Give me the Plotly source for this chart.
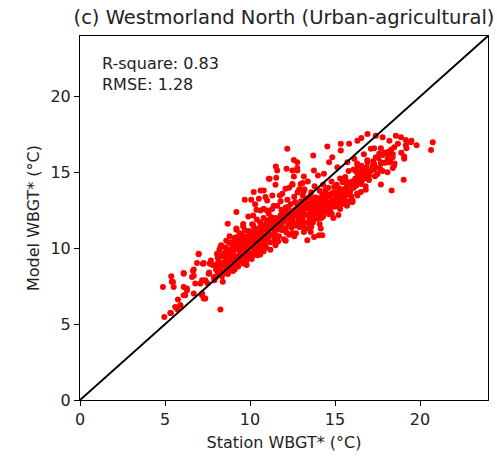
import plotly.graph_objects as go

# Points (station WBGT*, model WBGT*)
points = [
    # low tail
    (4.88, 7.45), (4.96, 5.48), (5.37, 8.16), (5.47, 7.78), (5.51, 7.45), (5.35, 5.74),
    (5.76, 6.62), (5.90, 6.25), (6.10, 8.33), (6.10, 7.45), (6.19, 6.91), (5.60, 6.14),
    (6.65, 8.51), (6.59, 8.11), (6.98, 9.61), (7.24, 8.99), (6.78, 7.68), (6.29, 7.35),
    (6.69, 7.02), (7.08, 7.68), (7.18, 7.02), (7.28, 6.69), (8.26, 5.97), (7.67, 8.99),
    (7.57, 8.33), (7.37, 7.89), (7.87, 8.11), (8.06, 9.65), (5.40, 7.80), (6.10, 8.38),
    (5.90, 6.25), (5.74, 5.97), (5.31, 5.74), (6.88, 9.03), (7.28, 9.03), (6.69, 8.60),
    (6.69, 8.20), (7.18, 7.89), (7.18, 6.91), (7.37, 6.69), (6.10, 6.91), (6.29, 7.24),
    (6.98, 9.65), (7.24, 9.00), (7.63, 9.00), (8.26, 10.09),
    # upper-left scatter
    (12.19, 16.56), (12.58, 15.83), (12.78, 15.68), (12.78, 15.30), (12.15, 15.24),
    (11.52, 15.39), (11.54, 14.65), (11.15, 14.58), (11.50, 14.20), (12.58, 14.74),
    (13.17, 14.74), (13.10, 14.30), (12.49, 14.25), (12.09, 13.93), (10.62, 13.82),
    (10.22, 13.71), (9.69, 13.20), (10.07, 13.20), (10.52, 13.27), (10.91, 13.38),
    (11.31, 13.49), (11.76, 13.49), (9.20, 12.39), (8.69, 11.62), (9.60, 11.45),
    (10.13, 11.58), (10.38, 12.54), (10.19, 12.17), (10.81, 12.61), (11.00, 12.50),
    (9.20, 11.23), (9.24, 10.64), (8.77, 10.35),
    (12.49, 15.13), (12.78, 15.13), (11.60, 15.13), (11.11, 14.58), (12.50, 14.20),
    (12.98, 14.25), (13.76, 15.13), (13.72, 16.12), (14.55, 16.71), (14.84, 16.00),
    (14.65, 15.68), (15.34, 16.89), (15.34, 16.45), (15.83, 16.89), (16.32, 17.10),
    (16.55, 17.28), (14.35, 14.91), (15.14, 15.35), (15.73, 15.68), (16.13, 15.90),
    (16.32, 15.35), (16.62, 15.13), (16.90, 14.60), (16.52, 13.71), (16.03, 13.16),
    (15.34, 13.16), (15.53, 13.82), (10.81, 13.82), (11.01, 13.16), (10.62, 12.50),
    (10.3, 12.9), (11.9, 13.6), (12.3, 14.0), (13.4, 14.4), (14.0, 14.8), (12.9, 13.9),
    (11.4, 12.8), (9.9, 12.1),
    # right cluster
    (20.75, 16.99), (20.65, 16.49), (19.04, 14.52), (18.33, 13.82), (17.70, 14.21),
    (16.81, 13.86), (18.58, 17.43), (18.88, 17.32), (19.17, 17.15), (19.47, 16.99),
    (19.17, 16.80), (18.48, 16.67), (17.80, 17.32), (17.40, 17.43), (16.91, 17.54),
    (17.11, 16.56), (17.60, 16.23), (18.09, 16.23), (18.39, 16.01), (19.07, 16.05),
    (19.07, 15.90), (18.19, 15.68), (18.48, 15.46), (16.91, 15.68), (17.30, 15.57),
    (17.70, 15.68), (16.91, 14.80), (17.00, 14.50), (18.09, 15.02), (18.40, 15.30),
    (17.30, 15.20),
    # lower-right edge
    (13.37, 10.53), (13.57, 11.07), (13.77, 10.74), (14.06, 10.86), (14.25, 10.86),
    (13.17, 11.07), (13.57, 11.40), (13.10, 11.40), (16.03, 13.05), (15.44, 13.05),
    (15.10, 12.83), (15.53, 13.49), (16.32, 13.49), (14.16, 11.30), (13.57, 11.62),
    (15.24, 12.72), (14.55, 12.50),
    # dense band
    (7.6, 8.4), (7.8, 8.9), (7.9, 7.9), (8.0, 8.6), (7.7, 9.2), (8.1, 9.4), (7.5, 7.7), (8.0, 8.1),
    (8.2, 8.8), (8.3, 9.5), (8.4, 8.3), (8.5, 9.0), (8.2, 9.9), (8.4, 7.8), (8.6, 8.6), (8.3, 10.2),
    (8.5, 9.7), (8.1, 8.4), (8.6, 9.3),
    (8.7, 9.9), (8.8, 8.9), (8.9, 9.6), (8.7, 8.3), (8.9, 10.4), (9.0, 9.1), (8.8, 10.8), (9.0, 8.5),
    (8.6, 10.5), (8.9, 9.3), (9.0, 9.8), (8.7, 9.5),
    (9.1, 9.4), (9.2, 10.1), (9.3, 8.8), (9.1, 10.7), (9.4, 9.6), (9.3, 10.4), (9.2, 9.0), (9.5, 10.0),
    (9.4, 11.0), (9.1, 8.6), (9.5, 9.3), (9.3, 9.9), (9.2, 11.3),
    (9.6, 10.3), (9.7, 9.5), (9.8, 10.8), (9.6, 9.0), (9.9, 10.1), (9.7, 11.2), (10.0, 9.7), (9.8, 9.2),
    (9.9, 10.5), (9.6, 11.6), (10.0, 10.9), (9.7, 10.0), (9.8, 8.9),
    (10.1, 10.4), (10.2, 9.8), (10.3, 11.0), (10.1, 9.3), (10.4, 10.2), (10.2, 11.5), (10.5, 10.7),
    (10.3, 9.6), (10.4, 11.9), (10.5, 9.9), (10.1, 10.8), (10.3, 10.4), (10.5, 11.3),
    (10.6, 10.5), (10.7, 11.1), (10.8, 9.8), (10.6, 11.7), (10.9, 10.7), (10.7, 10.1), (11.0, 11.4),
    (10.8, 12.0), (10.9, 10.3), (11.0, 10.9), (10.6, 9.6), (10.8, 11.5),
    (11.1, 11.1), (11.2, 10.4), (11.3, 11.8), (11.1, 12.3), (11.4, 10.9), (11.2, 11.5), (11.5, 10.2),
    (11.3, 12.6), (11.4, 11.3), (11.5, 12.0), (11.2, 9.9),
    (11.6, 11.6), (11.7, 10.8), (11.8, 12.2), (11.6, 12.8), (11.9, 11.2), (11.7, 11.9), (12.0, 10.6),
    (11.8, 13.1), (11.9, 11.7), (12.0, 12.4),
    (12.1, 11.3), (12.2, 12.0), (12.3, 10.9), (12.1, 12.7), (12.4, 11.7), (12.3, 12.3), (12.5, 11.0),
    (12.2, 13.2), (12.4, 12.9), (12.5, 11.9), (12.1, 10.5),
    (12.6, 12.2), (12.7, 11.5), (12.8, 12.8), (12.6, 13.4), (12.9, 12.0), (12.7, 11.0), (13.0, 12.6),
    (12.8, 13.7), (12.9, 11.4), (13.0, 13.1), (12.6, 10.8),
    (13.1, 12.3), (13.2, 11.7), (13.3, 12.9), (13.1, 13.5), (13.4, 12.2), (13.2, 13.9), (13.5, 12.7),
    (13.3, 11.3), (13.4, 13.3), (13.5, 11.9), (13.1, 12.0),
    (13.6, 12.5), (13.7, 13.1), (13.8, 12.0), (13.6, 13.7), (13.9, 12.8), (13.7, 11.7), (14.0, 13.3),
    (13.8, 14.1), (13.9, 12.3), (14.0, 12.9), (13.6, 11.4),
    (14.1, 12.6), (14.2, 13.2), (14.3, 12.1), (14.1, 13.8), (14.4, 12.9), (14.2, 12.0), (14.5, 13.5),
    (14.3, 14.2), (14.4, 12.4), (14.5, 13.0), (14.1, 11.6),
    (14.6, 12.8), (14.7, 13.4), (14.8, 12.3), (14.6, 14.0), (14.9, 13.1), (14.7, 12.6), (15.0, 13.7),
    (14.8, 14.4), (14.9, 12.0), (15.0, 13.2),
    (15.1, 13.0), (15.2, 13.6), (15.3, 12.6), (15.1, 14.2), (15.4, 13.3), (15.2, 12.2), (15.5, 13.9),
    (15.3, 14.6), (15.4, 12.9),
    (15.6, 13.5), (15.7, 14.1), (15.8, 13.1), (15.6, 14.7), (15.9, 13.8), (15.7, 12.8), (16.0, 14.4),
    (15.8, 15.1),
    (16.1, 14.0), (16.2, 14.6), (16.3, 13.6), (16.1, 15.2), (16.4, 14.3), (16.5, 15.0), (16.3, 15.6),
    (16.6, 14.5), (16.7, 15.3), (16.8, 14.1), (16.9, 15.8), (17.0, 14.8), (16.7, 16.2),
    (17.2, 15.4), (17.4, 16.0), (17.5, 14.9), (17.7, 15.6), (17.9, 16.3), (17.3, 16.6), (17.8, 15.1),
    (18.1, 15.9), (18.3, 16.5), (18.5, 15.6), (18.7, 16.9), (18.2, 17.1), (18.9, 16.3),
    (19.2, 16.6), (19.5, 17.1), (19.8, 16.8),
    # dense band, second pass
    (8.05, 8.95), (8.15, 9.15), (8.25, 8.55), (8.35, 9.05), (8.45, 9.45), (8.55, 8.75), (8.65, 9.15),
    (8.75, 9.75), (8.85, 9.25), (8.95, 8.75), (8.35, 8.15), (8.55, 10.05), (8.75, 8.55), (8.95, 10.15),
    (8.15, 9.65), (8.45, 8.95),
    (9.05, 9.55), (9.15, 9.95), (9.25, 9.45), (9.35, 10.25), (9.45, 9.15), (9.55, 9.75), (9.65, 10.55),
    (9.75, 9.65), (9.85, 10.35), (9.95, 9.45), (9.05, 10.35), (9.25, 10.75), (9.45, 10.55), (9.65, 9.35),
    (9.85, 9.85), (9.95, 11.15), (9.15, 9.05), (9.55, 10.85),
    (10.05, 10.15), (10.15, 10.65), (10.25, 10.05), (10.35, 10.75), (10.45, 10.45), (10.55, 10.15),
    (10.65, 10.95), (10.75, 10.45), (10.85, 11.25), (10.95, 10.05), (10.25, 11.25), (10.45, 9.55),
    (10.65, 11.45), (10.85, 10.65), (10.15, 9.55), (10.55, 11.05), (10.95, 11.65), (10.35, 9.95),
    (11.05, 10.65), (11.15, 11.35), (11.25, 10.85), (11.35, 11.55), (11.45, 11.05), (11.55, 11.75),
    (11.65, 11.25), (11.75, 12.05), (11.85, 11.45), (11.95, 12.15), (11.25, 12.05), (11.45, 10.55),
    (11.65, 10.45), (11.85, 12.55), (11.05, 11.85),
    (12.05, 11.85), (12.15, 12.35), (12.25, 11.55), (12.35, 12.05), (12.45, 12.45), (12.55, 11.65),
    (12.65, 12.55), (12.75, 12.15), (12.85, 11.85), (12.95, 12.35), (12.25, 12.75), (12.45, 11.35),
    (12.65, 13.05), (12.85, 12.45), (12.95, 11.65), (12.15, 11.05),
    (13.05, 12.85), (13.15, 12.55), (13.25, 12.25), (13.35, 12.65), (13.45, 12.95), (13.55, 12.35),
    (13.65, 12.95), (13.75, 12.65), (13.85, 13.35), (13.95, 13.05), (13.25, 13.25), (13.45, 11.65),
    (13.65, 12.15), (13.85, 12.55), (13.15, 13.75), (13.55, 13.45), (13.95, 11.95),
    (14.05, 13.05), (14.15, 12.85), (14.25, 13.55), (14.35, 12.75), (14.45, 13.25), (14.55, 12.65),
    (14.65, 13.55), (14.75, 13.05), (14.85, 13.65), (14.95, 12.75), (14.25, 12.45), (14.45, 13.85),
    (14.65, 12.25), (14.85, 12.85), (14.05, 12.25), (14.95, 14.05),
    (15.05, 13.45), (15.15, 13.25), (15.25, 13.95), (15.35, 13.35), (15.45, 13.75), (15.55, 13.15),
    (15.65, 13.85), (15.75, 13.55), (15.85, 14.25), (15.95, 13.45), (15.25, 12.95), (15.45, 14.35),
    (15.65, 14.45), (15.85, 13.05),
    (16.05, 14.05), (16.15, 14.45), (16.25, 14.15), (16.35, 14.85), (16.45, 14.65), (16.55, 14.25),
    (16.65, 14.95), (16.75, 14.65), (16.85, 15.35), (16.95, 15.05), (16.25, 15.05), (16.55, 15.45),
    (17.1, 15.1), (17.25, 15.75), (17.4, 15.35), (17.55, 15.95), (17.65, 15.25), (17.8, 16.15),
    (17.95, 15.65), (18.1, 16.35), (18.25, 15.75), (18.4, 16.2), (17.35, 14.75), (17.7, 16.6),
]
station_wbgt = [p[0] for p in points]
model_wbgt = [p[1] for p in points]

axis_max = 24
ticks = [0, 5, 10, 15, 20]
title = "(c) Westmorland North (Urban-agricultural)"
stats_text = "R-square: 0.83<br>RMSE: 1.28"

font_family = "DejaVu Sans"
fs = 16

fig = go.Figure()
fig.add_trace(go.Scatter(
    x=station_wbgt, y=model_wbgt, mode="markers",
    marker=dict(color="red", size=6, line=dict(width=0)),
    showlegend=False, hoverinfo="skip",
))
fig.add_trace(go.Scatter(
    x=[0, axis_max], y=[0, axis_max], mode="lines",
    line=dict(color="black", width=2), showlegend=False, hoverinfo="skip",
))

axis_common = dict(
    range=[0, axis_max], tickvals=ticks, ticks="outside", ticklen=5, tickwidth=1,
    tickcolor="black", showline=True, linecolor="black", linewidth=1, mirror=True,
    showgrid=False, zeroline=False, tickfont=dict(size=fs, color="#222", family=font_family),
)
fig.update_xaxes(**axis_common, title=dict(text="Station WBGT* (°C)", font=dict(size=fs, color="#222", family=font_family), standoff=8))
fig.update_yaxes(**axis_common, title=dict(text="Model WBGT* (°C)", font=dict(size=fs, color="#222", family=font_family), standoff=6))

fig.add_annotation(
    x=0.05, y=0.955, xref="x domain", yref="y domain", text=stats_text,
    showarrow=False, xanchor="left", yanchor="top", align="left",
    font=dict(size=fs, color="#222", family=font_family),
)

fig.update_layout(
    width=497, height=457,
    margin=dict(l=80, r=9, t=36, b=57),
    paper_bgcolor="white", plot_bgcolor="white",
    title=dict(text=title, xref="paper", x=0.5, xanchor="center", y=0.962, yanchor="middle",
               font=dict(size=19.5, color="#222", family=font_family)),
    font=dict(family=font_family),
)

fig.write_html("out.html")
